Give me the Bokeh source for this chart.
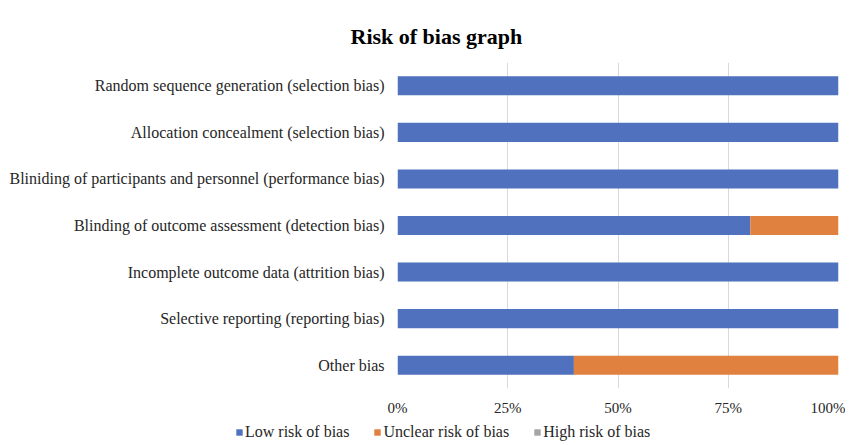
from bokeh.plotting import figure
from bokeh.models import (ColumnDataSource, FactorRange, Range1d, FixedTicker,
                          CustomJSTickFormatter, Legend, LegendItem)
from bokeh.layouts import column
from bokeh.embed import file_html
from bokeh.resources import INLINE

categories = [
    "Random sequence generation (selection bias)",
    "Allocation concealment (selection bias)",
    "Bliniding of participants and personnel (performance bias)",
    "Blinding of outcome assessment (detection bias)",
    "Incomplete outcome data (attrition bias)",
    "Selective reporting (reporting bias)",
    "Other bias",
]
low_risk = [100, 100, 100, 80, 100, 100, 40]
unclear_risk = [0, 0, 0, 20, 0, 0, 60]
high_risk = [0, 0, 0, 0, 0, 0, 0]
series_names = ["Low risk of bias", "Unclear risk of bias", "High risk of bias"]
series_colors = ["#4f71be", "#e0813f", "#a5a5a5"]
x_ticks = [0, 25, 50, 75, 100]

source = ColumnDataSource(dict(cat=categories, low=low_risk,
                               unclear=unclear_risk, high=high_risk))

SERIF = "Liberation Serif"
TXT = "#262626"

p = figure(width=845, height=418, output_backend="svg", toolbar_location=None,
           y_range=FactorRange(*reversed(categories)), x_range=Range1d(0, 100),
           min_border_left=397, min_border_right=7, min_border_top=62,
           min_border_bottom=30, outline_line_color=None)

p.hbar_stack(["low", "unclear", "high"], y="cat", height=0.41,
             color=series_colors, line_color=None, source=source)

p.title.text = "Risk of bias graph"
p.title.text_font = SERIF
p.title.text_font_size = "22px"
p.title.text_font_style = "bold"
p.title.text_color = "#000000"
p.title.align = "left"
p.title.offset = -47
p.title.standoff = 28

p.xaxis.ticker = FixedTicker(ticks=x_ticks)
p.xaxis.formatter = CustomJSTickFormatter(code="return tick + '%';")
p.xaxis.axis_line_color = None
p.xaxis.major_tick_line_color = None
p.xaxis.minor_tick_line_color = None
p.xaxis.major_label_text_font = SERIF
p.xaxis.major_label_text_font_size = "15px"
p.xaxis.major_label_text_color = TXT
p.xaxis.major_label_standoff = 5

p.yaxis.axis_line_color = None
p.yaxis.major_tick_line_color = None
p.yaxis.minor_tick_line_color = None
p.yaxis.major_label_text_font = SERIF
p.yaxis.major_label_text_font_size = "16px"
p.yaxis.major_label_text_color = TXT
p.yaxis.major_label_standoff = 7

p.xgrid.grid_line_color = "#d9d9d9"
p.xgrid.ticker = FixedTicker(ticks=x_ticks)
p.ygrid.grid_line_color = None

# Legend strip below the chart (its own frame spans the full width)
p2 = figure(width=845, height=24, output_backend="svg", toolbar_location=None,
            x_range=Range1d(-2, -1), y_range=FactorRange(*reversed(categories)),
            x_axis_location=None, y_axis_location=None,
            min_border=0, outline_line_color=None)
p2.frame_align = False
p2.xgrid.visible = False
p2.ygrid.visible = False

legend_renderers = p2.hbar_stack(["low", "unclear", "high"], y="cat", height=0.41,
                                 color=series_colors, line_color=None, source=source)

items = [LegendItem(label=n, renderers=[r]) for n, r in zip(series_names, legend_renderers)]
legend = Legend(items=items, orientation="horizontal", location=(235, 1),
                glyph_width=8, glyph_height=8, label_standoff=2, spacing=24,
                padding=0, margin=0, border_line_color=None, background_fill_alpha=0,
                label_text_font=SERIF, label_text_font_size="16px",
                label_text_color=TXT, label_height=16)
p2.add_layout(legend, "center")

layout = column(p, p2, spacing=0)
open("out.html", "w").write(file_html(layout, INLINE))
